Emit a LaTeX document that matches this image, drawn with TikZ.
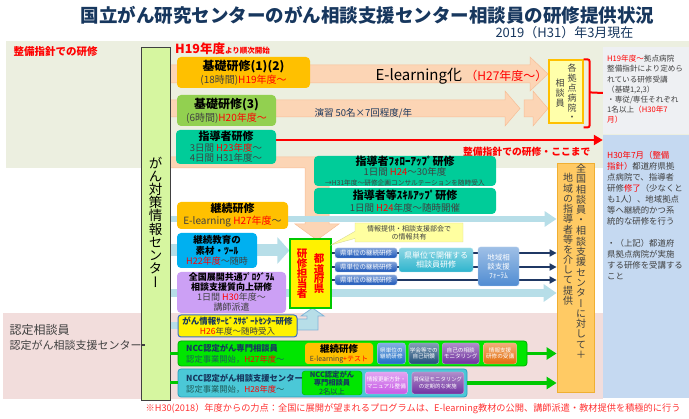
\documentclass[tikz,border=0pt]{standalone}
\usepackage{fontspec}
\setmainfont{Noto Sans CJK JP}
\newfontfamily\vfont[RawFeature=+vert]{Noto Sans CJK JP}
\usetikzlibrary{arrows.meta,shapes.callouts,positioning,calc}
\pgfdeclarelayer{back}
\pgfdeclarelayer{mid}
\pgfsetlayers{back,mid,main}

\definecolor{navytxt}{RGB}{23,55,94}
\definecolor{beige}{RGB}{236,239,224}
\definecolor{pinkbg}{RGB}{242,221,220}
\definecolor{salmon}{RGB}{252,213,181}
\definecolor{salmondk}{RGB}{247,190,150}
\definecolor{ltblue}{RGB}{183,222,232}
\definecolor{ltbluedk}{RGB}{130,180,215}
\definecolor{limebox}{RGB}{214,246,160}
\definecolor{gold}{RGB}{255,192,0}
\definecolor{kgreen}{RGB}{146,208,80}
\definecolor{tealbox}{RGB}{0,204,153}
\definecolor{skybox}{RGB}{0,176,240}
\definecolor{lilac}{RGB}{204,160,245}
\definecolor{yr}{RGB}{255,0,0}
\definecolor{footred}{RGB}{255,50,50}
\definecolor{dgray}{RGB}{64,64,64}
\definecolor{greyinfo}{RGB}{238,240,243}
\definecolor{blueinfo}{RGB}{197,217,241}
\definecolor{colorange}{RGB}{255,202,100}
\definecolor{colorangedk}{RGB}{240,175,50}
\definecolor{kakuyel}{RGB}{255,255,170}
\definecolor{nccgreen}{RGB}{0,230,0}
\definecolor{nccgreendk}{RGB}{0,170,0}
\definecolor{ncccyan}{RGB}{75,200,215}
\definecolor{ncccyandk}{RGB}{40,160,190}
\definecolor{ncctxt}{RGB}{30,90,90}
\definecolor{arrgreen}{RGB}{0,200,0}
\definecolor{navyline}{RGB}{31,56,100}
\definecolor{barblue}{RGB}{25,85,185}
\definecolor{kentancol}{RGB}{45,180,205}
\definecolor{forumcol}{RGB}{80,140,210}
\definecolor{callyel}{RGB}{255,255,160}
\definecolor{nbblue}{RGB}{30,110,200}
\definecolor{nbnavy}{RGB}{31,78,121}
\definecolor{nbpurple}{RGB}{112,48,160}
\definecolor{nborange}{RGB}{228,108,10}
\definecolor{magentabox}{RGB}{200,90,230}
\definecolor{gjblue}{RGB}{60,110,200}

\newcommand\fz[2]{\fontsize{#1}{#2}\selectfont}
\newcommand\hl[1]{\textcolor{yr}{#1}}
% vertical text: name, style, x, top y, step, characters
\newcommand\vtext[6]{%
  \foreach \vc [count=\i from 0] in {#6}
    \node[inner sep=0pt, #2] (#1\i) at (#3,{#4+\i*#5}) {\vfont\vc};%
}

\begin{document}
\begin{tikzpicture}[x=1pt, y=-1pt,
    box/.style={rounded corners=4pt, align=center, inner sep=0pt, font=\fz{10}{12}},
    sal/.style={fill=salmon, draw=salmondk, line width=0.5pt},
    blarrow/.style={ltblue, line width=6pt, -{Triangle[length=12pt,width=15pt]}},
    darr/.style={navyline, line width=1.8pt, -{Triangle[length=7pt,width=7pt]}},
    garr/.style={arrgreen, line width=3.5pt, -{Triangle[length=10pt,width=12pt]}},
    gloss/.style={rounded corners=2.5pt, top color=#1!55!white, bottom color=#1,
        draw=#1!40!white, text=white, align=center, inner sep=0pt, font=\fz{5.6}{6.6}},
  ]
  \useasboundingbox (0,0) rectangle (689,419);

  % Background bands
  \begin{pgfonlayer}{back}
    \fill[beige] (6,41) rectangle (689,168);
    \fill[pinkbg] (3,313) rectangle (603,399);
  \end{pgfonlayer}

  % Title
  \node[font=\bfseries\fz{18.5}{20}, text=navytxt] (title) at (367.5,15)
    {国立がん研究センターのがん相談支援センター相談員の研修提供状況};
  \node[anchor=east, font=\fz{13}{15}, text=navytxt] (date) at (637,33) {2019（H31）年3月現在};

  % Right info boxes
  \node[fill=greyinfo, minimum width=86, minimum height=87, inner sep=0pt] (ginfo) at (646,90.5) {};
  \node[fill=blueinfo, minimum width=86, minimum height=263, inner sep=0pt] (binfo) at (646,266.5) {};
  \node[anchor=north west, align=left, inner sep=0pt, font=\fz{7.6}{10.2}, text=dgray] (gtext) at (607,55)
    {\hl{H19年度～}拠点病院\\整備指針により定めら\\れている研修受講\\（基礎1,2,3）\\・専従/専任それぞれ\\1名以上\hl{（H30年7}\\\hl{月）}};
  \node[anchor=north west, align=left, inner sep=0pt, font=\fz{8.4}{11}, text=dgray] (btext) at (607,151)
    {\hl{H30年7月（整備}\\\hl{指針）}都道府県拠\\点病院で、指導者\\研修\hl{修了}（少なくと\\も1人）、地域拠点\\等へ継続的かつ系\\統的な研修を行う\\[11pt]・（上記）都道府\\県拠点病院が実施\\する研修を受講する\\こと};

  % Left labels
  \node[anchor=west, font=\bfseries\fz{10.5}{12}, text=yr] (seibi) at (10,52) {整備指針での研修};
  \node[anchor=west, font=\fz{12}{14}, text=dgray] (nintei1) at (6,330) {認定相談員};
  \node[anchor=west, font=\fz{11}{13}, text=dgray] (nintei2) at (6,345) {認定がん相談支援センター};

  % Central column
  \node[draw=black!75, line width=0.8pt, fill=limebox, minimum width=29, minimum height=353,
    inner sep=0pt] (gctr) at (155.5,223.5) {};
  \vtext{gc}{font=\fz{13.5}{14}}{155.5}{163}{13.2}{が,ん,対,策,情,報,セ,ン,タ,ー}
  \draw[dgray, line width=1.5pt] (nintei2.east) -- (gctr.west |- nintei2);

  % Guideline courses
  \node[anchor=west, text=yr, font=\bfseries, inner sep=0pt] (h19) at (175,49)
    {{\fz{12.5}{14}H19年度}{\fz{7.5}{9}より順次開始}};
  \node[box, fill=gold, minimum width=133, minimum height=31] (kiso12) at (243.5,72.5)
    {{\bfseries\fz{12}{14}基礎研修(1)(2)}\\[1pt]{\color{dgray}(18時間)\hl{H19年度～}}};
  \node[anchor=west, font=\fz{15}{16}] (elearn) at (372,76) {E-learning化 {\fz{12}{14}\hl{（H27年度～）}}};
  \node[box, fill=kgreen, minimum width=99, minimum height=31] (kiso3) at (226.5,110.5)
    {{\bfseries\fz{12}{14}基礎研修(3)}\\[1pt]{\color{dgray}(6時間)\hl{H20年度～}}};
  \node[anchor=west, font=\fz{9.5}{11}, text=navytxt] (ensyu) at (311,113) {演習 50名×7回程度/年};
  \node[box, fill=tealbox, minimum width=100, minimum height=34, font=\fz{9.5}{10.5}] (shidou) at (226,147)
    {{\bfseries\fz{11}{13}指導者研修}\\{\color{dgray}3日間 \hl{H23年度}～}\\{\color{dgray}4日間 H31年度～}};
  \draw[yr, line width=2.6pt, -{Triangle[length=9pt,width=10pt]}] (shidou.east |- 0,140) -- (binfo.west |- 0,140);
  \node[anchor=east, font=\bfseries\fz{9.8}{11}, text=yr] (koko) at (594,152) {整備指針での研修・ここまで};

  % Hospital counsellors
  \node[fill=kakuyel, draw=gold, line width=1.2pt, minimum width=34, minimum height=63, inner sep=0pt] (kaku) at (566,91.5) {};
  \vtext{ka}{font=\fz{9}{10}, text=dgray}{572}{68}{10}{各,拠,点,病,院,・}
  \vtext{kb}{font=\fz{9}{10}, text=dgray}{560}{83}{10}{相,談,員}
  \draw[yr, line width=2pt, rounded corners=2pt] (kaku.north east) -- ++(6,0) -- ++(0,68) -- ++(-6,0);
  \draw[yr, line width=2pt] ($(kaku.north east)+(6,33)$) -- (ginfo.west |- 0,93);

  % Follow-up courses
  \node[box, fill=tealbox, minimum width=182, minimum height=30, font=\fz{9.5}{10}] (follow) at (405,171)
    {{\bfseries\fz{11}{12}指導者ﾌｫﾛｰｱｯﾌﾟ研修}\\{\color{dgray}1日間 \hl{H24}～30年度}\\{\fz{6.7}{7}\color{dgray}→H31年度～研修企画コンサルテーションを随時受入}};
  \node[box, fill=tealbox, minimum width=182, minimum height=26] (skill) at (405,201)
    {{\bfseries\fz{11}{12}指導者等ｽｷﾙｱｯﾌﾟ研修}\\{\fz{9.5}{11}\color{dgray}1日間 \hl{H24}年度～随時開催}};

  % Continuing education
  \node[box, fill=gold, minimum width=111, minimum height=27] (keizoku) at (232.5,215.5)
    {{\bfseries\fz{11}{12}継続研修}\\{\color{dgray}E-learning \hl{H27年度}～}};
  \node[box, fill=skybox, minimum width=80, minimum height=35, font=\fz{9.5}{10.5}] (sozai) at (217,250.5)
    {{\bfseries 継続教育の}\\{\bfseries 素材・ﾂｰﾙ}\\{\fz{9}{10}\hl{H22年度}\color{dgray}～随時}};
  \node[box, fill=lilac, minimum width=109, minimum height=41, font=\fz{9}{10}] (zenkoku) at (231.5,292.5)
    {{\bfseries 全国展開共通ﾌﾟﾛｸﾞﾗﾑ}\\{\bfseries 相談支援質向上研修}\\{\color{dgray}1日間 \hl{H30}年度～}\\{\color{dgray}講師派遣}};
  \node[box, fill=yellow, draw=gjblue, line width=1pt, rounded corners=3pt, minimum width=119,
    minimum height=22, font=\fz{8.5}{9.5}] (ganjoho) at (237.5,326)
    {{\bfseries\color{navytxt}がん情報ｻｰﾋﾞｽｻﾎﾟｰﾄｾﾝﾀｰ研修}\\{\hl{H26}\color{dgray}年度～随時受入}};

  % Prefecture
  \node[fill=yellow, draw=arrgreen, line width=1.2pt, minimum width=41, minimum height=69, inner sep=0pt] (todo) at (310.5,273.5) {};
  \vtext{tt}{font=\bfseries\fz{10.5}{11}, text=yr}{302}{254}{9.8}{研,修,担,当,者}
  \vtext{tf}{font=\bfseries\fz{10.5}{11}, text=yr}{319}{259}{10}{都,道,府,県}
  \node[rectangle callout, callout absolute pointer={(331,245)}, fill=callyel, draw=callyel!70!gray,
    minimum width=108, minimum height=19, inner sep=0pt, align=center, font=\fz{7}{8}, text=dgray] (bukai) at (409,232.5)
    {情報提供・相談支援部会で\\の情報共有};
  \node[gloss=barblue, minimum width=62, minimum height=10, font=\fz{6.5}{7}] (bar1) at (366,253) {県単位の継続研修};
  \node[gloss=barblue, minimum width=62, minimum height=10, font=\fz{6.5}{7}] (bar2) at (366,267) {県単位の継続研修};
  \node[gloss=barblue, minimum width=62, minimum height=10, font=\fz{6.5}{7}] (bar3) at (366,280) {県単位の継続研修};
  \node[gloss=kentancol, minimum width=74, minimum height=24, font=\fz{8}{9.5}] (kentan) at (436,260) {県単位で開催する\\相談員研修};
  \node[gloss=forumcol, minimum width=41, minimum height=39, font=\fz{7.5}{9}] (forum) at (498.5,266.5) {地域相\\談支援\\ﾌｫｰﾗﾑ};

  % Provision column
  \node[fill=colorange, draw=colorangedk, line width=0.8pt, minimum width=37, minimum height=229, inner sep=0pt] (teikyou) at (575.5,277.5) {};
  \vtext{tr}{font=\fz{10}{11}, text=dgray}{581}{169}{10.33}{全,国,相,談,員,・,相,談,支,援,セ,ン,タ,ー,に,対,し,て,＋}
  \vtext{tl}{font=\fz{10}{11}, text=dgray}{568}{178}{10.25}{地,域,の,指,導,者,等,を,介,し,て,提,供}

  % NCC certification
  \node[fill=nccgreen, draw=nccgreendk, line width=0.8pt, rounded corners=3pt, minimum width=349,
    minimum height=25, inner sep=0pt] (ncc1) at (352.5,353.5) {};
  \node[anchor=west, inner sep=0pt, font=\bfseries\fz{8.3}{10}, text=navytxt] (ncc1a) at (186,348) {NCC認定がん専門相談員};
  \node[anchor=west, inner sep=0pt, font=\fz{8.3}{10}, text=ncctxt] (ncc1b) at (186,359.5) {認定事業開始，\hl{H27年度}～};
  \node[box, fill=gold, rounded corners=3pt, minimum width=68, minimum height=21, font=\fz{7}{8}] (kz2) at (339,353.5)
    {{\bfseries\fz{9.5}{10.5}継続研修}\\[1pt]{\color{dgray}E-learning}\hl{+テスト}};
  \node[gloss=nbblue, minimum width=28, minimum height=21, right=4pt of kz2] (nb1) {県単位の\\継続研修};
  \node[gloss=nbnavy, minimum width=30, minimum height=21, right=3pt of nb1] (nb2) {学会等での\\自己研鑽};
  \node[gloss=nbpurple, minimum width=37, minimum height=21, right=3pt of nb2] (nb3) {自己の相談\\モニタリング};
  \node[gloss=nborange, minimum width=33, minimum height=21, right=4pt of nb3] (nb4) {情報支援\\研修の受講};

  \node[fill=ncccyan, draw=ncccyandk, line width=0.8pt, rounded corners=3pt, minimum width=289,
    minimum height=28, inner sep=0pt] (ncc2) at (322.5,383) {};
  \node[anchor=west, inner sep=0pt, font=\bfseries\fz{8.3}{10}, text=navytxt] (ncc2a) at (186,378) {NCC認定がん相談支援センター};
  \node[anchor=west, inner sep=0pt, font=\fz{8.3}{10}, text=ncctxt] (ncc2b) at (186,389.5) {認定事業開始，\hl{H28年度}～};
  \node[box, fill=nccgreen, draw=nccgreendk, rounded corners=3pt, minimum width=60, minimum height=24,
    font=\fz{7.3}{8.2}, text=navytxt] (ng) at (332,383) {{\bfseries NCC認定がん}\\{\bfseries 専門相談員}\\2名以上};
  \node[gloss=magentabox, minimum width=42, minimum height=22, right=3pt of ng] (mg) {情報更新方針・\\マニュアル整備};
  \node[gloss=nbpurple, minimum width=52, minimum height=22, right=4pt of mg, font=\fz{5.4}{6.6}] (pp) {質保証モニタリング\\の定期的な実施};

  \draw[garr] (ncc1.east) -- (teikyou.west |- ncc1);
  \draw[garr] (ncc2.east) -- (teikyou.west |- ncc2);
  \draw[arrgreen, line width=3pt] (gctr.east |- ncc1) -- (ncc1.west);
  \draw[arrgreen, line width=3pt] (gctr.east |- ncc2) -- (ncc2.west);

  % Footer
  \node[anchor=east, font=\fz{9.2}{11}, text=footred] (foot) at (684,409)
    {※H30(2018）年度からの力点：全国に展開が望まれるプログラムは、E-learning教材の公開、講師派遣・教材提供を積極的に行う};

  % Arrows behind the boxes
  \begin{pgfonlayer}{mid}
    \draw[sal] (170,65) -- (530,65) -- (530,57) -- (548,74) -- (530,91) -- (530,83) -- (170,83) -- cycle;
    \draw[sal] (170,100) -- (505,100) -- (505,91) -- (520,108.5) -- (505,126) -- (505,117) -- (170,117) -- cycle;
    \draw[sal] (524,100) -- (533,100) -- (533,91) -- (548,108.5) -- (533,126) -- (533,117) -- (524,117) -- cycle;
    \draw[sal] (170,157) -- (329,157) -- (329,224) -- (339,224) -- (317,240) -- (295,224) -- (305,224) -- (305,168) -- (170,168) -- cycle;
    \draw[blarrow] (gctr.east |- 0,219) -- (teikyou.west |- 0,219);
    \draw[blarrow, line width=12pt, -{Triangle[length=12pt,width=26pt]}] (gctr.east |- sozai) -- (todo.west |- sozai);
    \draw[blarrow, line width=8pt, -{Triangle[length=13pt,width=17pt]}] (gctr.east |- 0,293) -- (teikyou.west |- 0,293);
    \draw[ltblue, line width=7pt] (gctr.east |- ganjoho) -- (ganjoho.west);
    \draw[fill=ltblue, draw=ltbluedk, line width=0.8pt] (ganjoho.east |- 0,319) -- (307,319) -- (307,316) -- (301,316)
      -- (312.5,308) -- (324,316) -- (318,316) -- (318,330) -- (ganjoho.east |- 0,330) -- cycle;
    \foreach \b in {bar1,bar2,bar3}
      \draw[darr] (todo.east |- \b) -- (teikyou.west |- \b);
  \end{pgfonlayer}
\end{tikzpicture}
\end{document}
